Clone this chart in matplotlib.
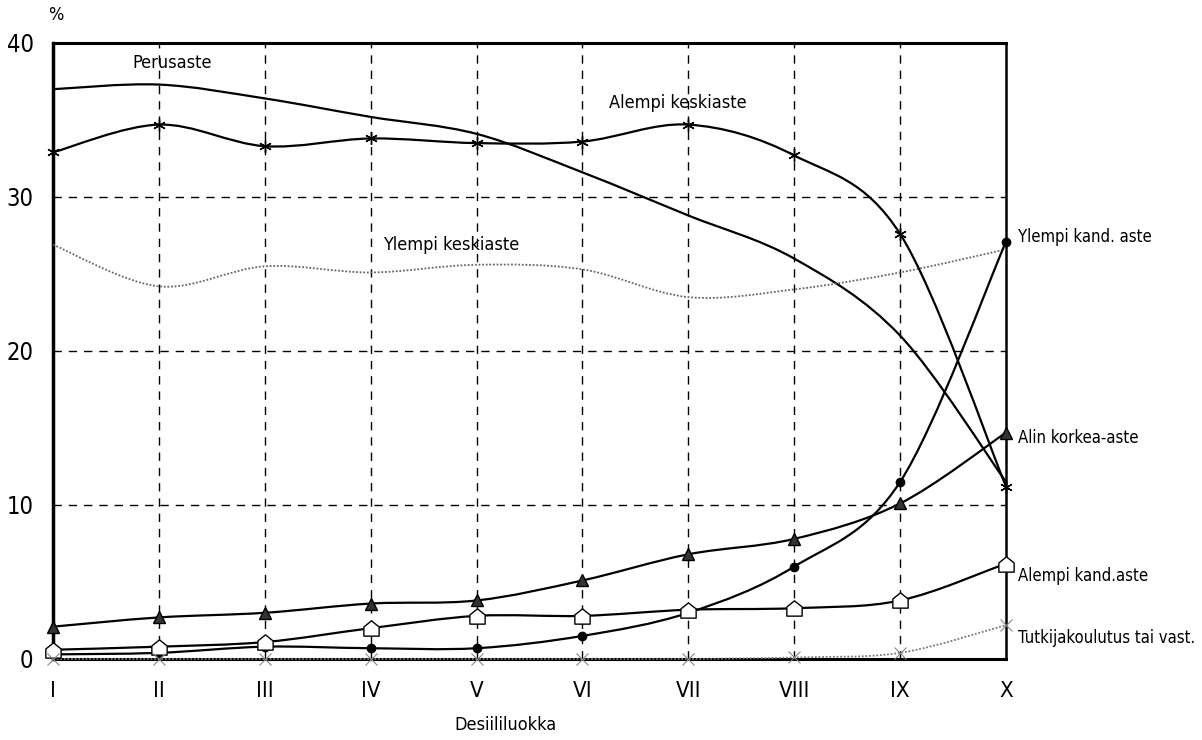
import matplotlib
matplotlib.use("Agg")
import matplotlib.pyplot as plt
from matplotlib.path import Path
from matplotlib.patches import PathPatch
import numpy as np

plt.rcParams['font.family'] = ['DejaVu Sans']
plt.rcParams['font.stretch'] = 'condensed'

categories = ["I", "II", "III", "IV", "V", "VI", "VII", "VIII", "IX", "X"]

perusaste = [37.0, 37.3, 36.4, 35.2, 34.1, 31.6, 28.8, 26.0, 21.0, 11.5]
alempi_keskiaste = [32.9, 34.7, 33.3, 33.8, 33.5, 33.6, 34.7, 32.7, 27.6, 11.2]
ylempi_keskiaste = [26.9, 24.2, 25.5, 25.1, 25.6, 25.3, 23.5, 24.0, 25.1, 26.6]
ylempi_kand = [0.3, 0.4, 0.8, 0.7, 0.7, 1.5, 3.0, 6.0, 11.5, 27.1]
alin_korkea = [2.1, 2.7, 3.0, 3.6, 3.8, 5.1, 6.8, 7.8, 10.1, 14.7]
alempi_kand = [0.6, 0.8, 1.1, 2.0, 2.8, 2.8, 3.2, 3.3, 3.8, 6.2]
tutkija = [0.0, 0.0, 0.0, 0.0, 0.0, 0.0, 0.0, 0.1, 0.4, 2.2]

yticks = [0, 10, 20, 30, 40]

fig = plt.figure(figsize=(12.02, 7.40), dpi=100)
ax = fig.add_axes([53/1202, 1-659/740, (1006-53)/1202, (659-43)/740])

x = np.arange(len(categories))


def smooth_path(xs, ys, t=1.0):
    pts = np.column_stack([xs, ys]).astype(float)
    n = len(pts)
    verts = [pts[0]]
    codes = [Path.MOVETO]
    for i in range(n - 1):
        p0 = pts[i - 1] if i > 0 else pts[i]
        p1 = pts[i]
        p2 = pts[i + 1]
        p3 = pts[i + 2] if i + 2 < n else pts[i + 1]
        c1 = p1 + (p2 - p0) / 6.0 * t
        c2 = p2 - (p3 - p1) / 6.0 * t
        verts += [c1, c2, p2]
        codes += [Path.CURVE4] * 3
    return Path(verts, codes)


house = Path([(-1, -1), (1, -1), (1, 0.2), (0, 1), (-1, 0.2), (-1, -1)],
             [Path.MOVETO, Path.LINETO, Path.LINETO, Path.LINETO, Path.LINETO, Path.CLOSEPOLY])

series = [
    (perusaste, dict(color='black', lw=1.6, ls='-'), None),
    (alempi_keskiaste, dict(color='black', lw=1.6, ls='-'),
     dict(marker=(6, 2, 0), ms=9, mec='black', mew=1.0, mfc='black')),
    (ylempi_keskiaste, dict(color='#666666', lw=1.3, ls=(0, (1, 1))), None),
    (ylempi_kand, dict(color='black', lw=1.6, ls='-'),
     dict(marker='o', ms=6, mec='black', mfc='black')),
    (alin_korkea, dict(color='black', lw=1.6, ls='-'),
     dict(marker='^', ms=8, mec='black', mfc='#333333')),
    (alempi_kand, dict(color='black', lw=1.6, ls='-'),
     dict(marker=house, ms=11, mec='black', mfc='white', mew=1.0)),
    (tutkija, dict(color='#777777', lw=1.3, ls=(0, (1, 1))),
     dict(marker='x', ms=9, mec='#888888', mew=0.8)),
]

for ys, lstyle, mstyle in series:
    p = smooth_path(x, ys)
    patch = PathPatch(p, facecolor='none', edgecolor=lstyle['color'],
                      lw=lstyle['lw'], ls=lstyle['ls'], zorder=3, clip_on=False)
    ax.add_patch(patch)
    if mstyle:
        ax.plot(x, ys, ls='none', zorder=4, clip_on=False, **mstyle)

ax.set_xlim(0, 9)
ax.set_ylim(0, 40)
ax.set_xticks(x)
ax.set_xticklabels(categories, fontsize=16)
ax.set_yticks(yticks)
ax.set_yticklabels([str(v) for v in yticks], fontsize=17)
ax.tick_params(axis='x', length=0, pad=16)
ax.tick_params(axis='y', length=0, pad=14)

for v in yticks[1:-1]:
    ax.axhline(v, color='black', lw=1.0, ls=(0, (6, 5)), zorder=1)
for xi in x[1:-1]:
    ax.axvline(xi, color='black', lw=1.0, ls=(0, (6, 5)), zorder=1)

ax.spines['top'].set_linewidth(2.2)
ax.spines['left'].set_linewidth(2.5)
ax.spines['bottom'].set_linewidth(2.2)
ax.spines['right'].set_linewidth(1.8)

ax.text(-0.05, 41.8, '%', fontsize=13, ha='left', va='center', transform=ax.transData)
fig.text(505/1202, 1-725/740, 'Desiililuokka', fontsize=13, ha='center', va='center')

ax.text(0.75, 38.7, 'Perusaste', fontsize=13, ha='left', va='center')
ax.text(5.25, 36.1, 'Alempi keskiaste', fontsize=13, ha='left', va='center')
ax.text(3.12, 26.9, 'Ylempi keskiaste', fontsize=13, ha='left', va='center')

fig.text(1018/1202, 1-237/740, 'Ylempi kand. aste', fontsize=12, ha='left', va='center')
fig.text(1018/1202, 1-438/740, 'Alin korkea-aste', fontsize=12, ha='left', va='center')
fig.text(1018/1202, 1-576/740, 'Alempi kand.aste', fontsize=12, ha='left', va='center')
fig.text(1018/1202, 1-638/740, 'Tutkijakoulutus tai vast.', fontsize=12, ha='left', va='center')

fig.savefig('out.png', dpi=100)
